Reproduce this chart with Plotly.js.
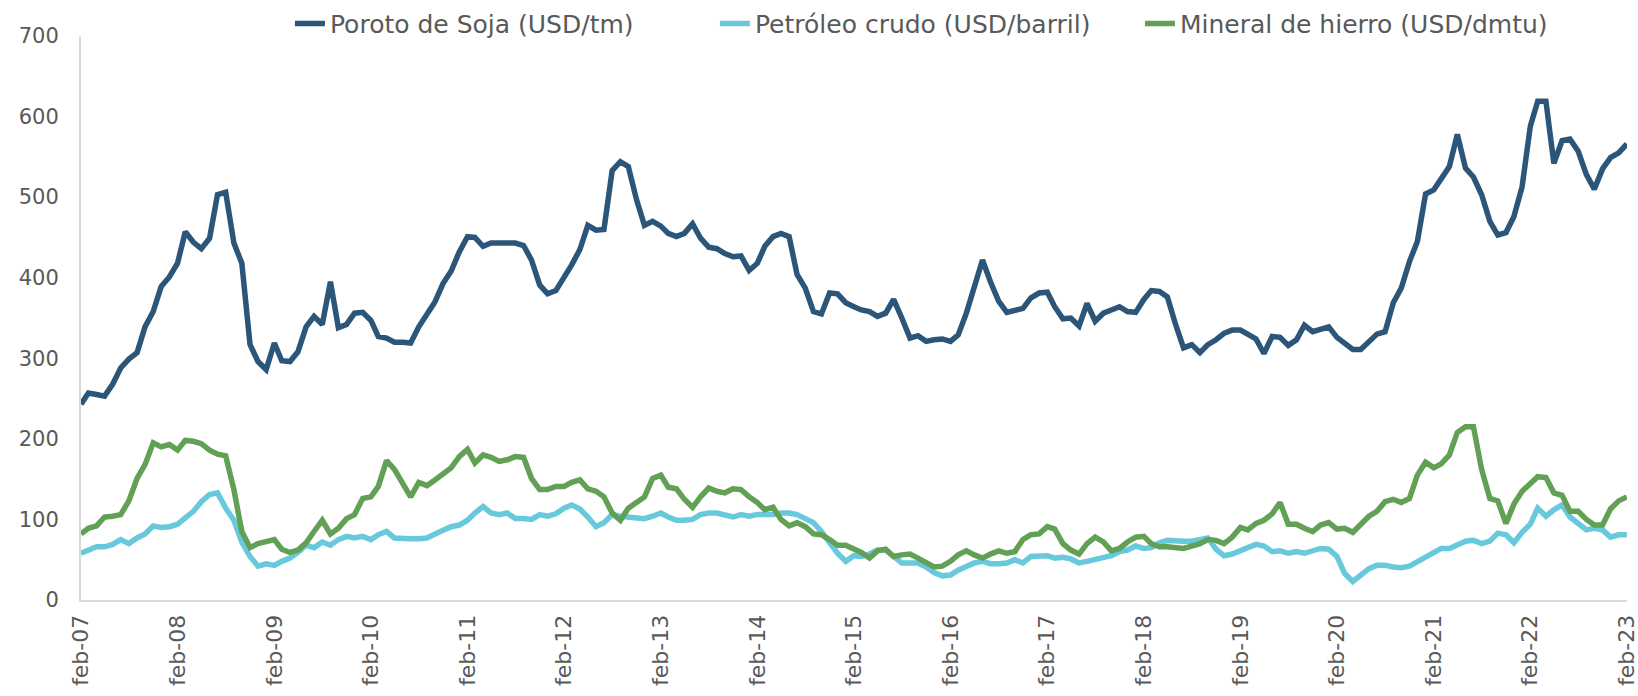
<!DOCTYPE html>
<html>
<head>
<meta charset="utf-8">
<script src="https://cdn.plot.ly/plotly-3.0.1.min.js"></script>
<style>
  html, body { margin: 0; padding: 0; background: #fff; }
  #chart { width: 1638px; height: 696px; }
</style>
</head>
<body>
<div id="chart"></div>
<script>
// monthly series, feb-07 .. feb-23 (one row = feb..jan)
const soja = [
  243, 257, 255, 253, 268, 288, 299, 307, 339, 358, 389, 401,
  418, 457, 444, 436, 449, 503, 506, 443, 418, 317, 296, 286,
  319, 297, 296, 308, 339, 352, 342, 395, 338, 342, 356, 357,
  347, 327, 325, 320, 320, 319, 339, 356, 370, 393, 408, 432,
  451, 450, 439, 443, 443, 442, 443, 440, 422, 391, 380, 384,
  400, 416, 435, 465, 459, 460, 533, 544, 538, 497, 465, 470,
  464, 455, 451, 455, 467, 449, 438, 436, 430, 426, 427, 409,
  418, 439, 451, 455, 451, 404, 387, 358, 355, 381, 380, 369,
  364, 360, 358, 352, 356, 373, 350, 325, 328, 321, 323, 324,
  321, 329, 356, 391, 422, 395, 371, 357, 359, 362, 375, 381,
  382, 364, 349, 350, 340, 368, 346, 356, 360, 364, 358, 357,
  373, 384, 383, 376, 342, 313, 317, 307, 317, 323, 331, 335,
  335, 329, 324, 306, 327, 326, 316, 323, 341, 333, 336, 339,
  326, 319, 311, 311, 321, 330, 333, 369, 387, 420, 445, 504,
  509, 522, 538, 578, 536, 525, 503, 470, 453, 456, 476, 513,
  588, 619, 619, 542, 570, 572, 557, 528, 510, 535, 549, 555,
  566
];

const petroleo = [
  58, 62, 66, 66, 69, 75, 70, 77, 82, 92, 90, 91,
  94, 102, 110, 122, 131, 133, 114, 99, 72, 54, 42, 45,
  43, 48, 52, 59, 68, 65, 72, 68, 75, 79, 77, 79,
  75, 81, 85, 77, 76, 76, 76, 77, 82, 86, 91, 93,
  99, 108, 116, 108, 106, 108, 101, 101, 100, 106, 104, 107,
  114, 118, 113, 103, 91, 96, 106, 104, 103, 101, 101, 104,
  108, 103, 99, 99, 100, 106, 108, 108, 106, 103, 106, 104,
  106, 106, 106, 108, 108, 106, 101, 96, 85, 72, 58, 48,
  55, 54, 57, 62, 62, 54, 46, 46, 46, 41, 34, 30,
  31, 37, 41, 46, 48, 45, 45, 46, 50, 46, 54, 55,
  55, 52, 53, 51, 46, 48, 50, 53, 55, 60, 62, 67,
  64, 65, 71, 74, 73, 73, 73, 75, 77, 63, 55, 57,
  62, 65, 69, 67, 60, 61, 58, 60, 58, 61, 64, 63,
  54, 33, 23, 31, 39, 43, 43, 41, 40, 42, 48, 54,
  59, 64, 64, 68, 73, 74, 70, 73, 83, 81, 71, 84,
  94, 114, 104, 112, 118, 103, 95, 87, 89, 87, 78, 81,
  81
];

const hierro = [
  82, 89, 92, 103, 104, 106, 123, 151, 168, 195, 190, 193,
  186, 198, 197, 194, 186, 181, 179, 137, 85, 65, 70, 72,
  75, 63, 59, 62, 71, 85, 99, 82, 89, 101, 106, 126,
  128, 141, 173, 162, 145, 128, 146, 142, 149, 156, 164, 178,
  187, 170, 180, 177, 172, 174, 178, 177, 151, 137, 137, 141,
  141, 146, 149, 138, 135, 128, 108, 99, 114, 121, 128, 151,
  155, 140, 138, 125, 115, 128, 139, 135, 133, 138, 137, 128,
  121, 112, 115, 100, 92, 96, 91, 82, 81, 75, 68, 68,
  63, 59, 52, 61, 63, 54, 56, 57, 52, 46, 41, 42,
  48, 56, 61, 56, 52, 57, 61, 58, 60, 75, 81, 82,
  91, 88, 70, 62, 57, 70, 78, 72, 61, 64, 72, 78,
  79, 70, 66, 66, 65, 64, 67, 70, 75, 74, 70, 78,
  90, 87, 95, 99, 107, 121, 94, 94, 89, 85, 93, 96,
  88, 89, 84, 93, 104, 110, 122, 125, 121, 126, 155, 171,
  164, 169, 180, 208, 215, 215, 162, 126, 123, 95, 119, 135,
  144, 153, 152, 133, 130, 110, 110, 100, 93, 93, 113, 123,
  128
];

const names = ['Poroto de Soja (USD/tm)', 'Petróleo crudo (USD/barril)', 'Mineral de hierro (USD/dmtu)'];
const colors = ['#2c5679', '#68c9dc', '#61a055'];

// month axis
const pad = n => (n < 10 ? '0' : '') + n;
const fechas = soja.map((_, i) => {
  const m = 1 + i;                 // 0-based month, starting at february
  const y = 2007 + Math.floor(m / 12);
  return y + '-' + pad(m % 12 + 1) + '-01';
});
const tickvals = [], ticktext = [];
for (let y = 2007; y <= 2023; y++) {
  tickvals.push(y + '-02-01');
  ticktext.push('feb-' + pad(y % 100));
}

const traces = [soja, petroleo, hierro].map((ys, k) => ({
  x: fechas, y: ys, name: names[k], type: 'scatter', mode: 'lines',
  line: {color: colors[k], width: 5.5}
}));

const font = {family: 'DejaVu Sans, Verdana, sans-serif', color: '#595959'};

Plotly.newPlot('chart', traces, {
  width: 1638, height: 696,
  margin: {l: 81, r: 11, t: 36, b: 96, autoexpand: false},
  paper_bgcolor: '#fff', plot_bgcolor: '#fff',
  font: font,
  showlegend: true,
  legend: {
    orientation: 'h', xref: 'container', yref: 'container',
    x: 0.177, xanchor: 'left', y: 0.966, yanchor: 'middle',
    font: {...font, size: 25}, entrywidth: 380, entrywidthmode: 'pixels'
  },
  xaxis: {
    type: 'date', range: ['2007-02-01', '2023-02-01 12:00'],
    tickmode: 'array', tickvals: tickvals, ticktext: ticktext, tickangle: -90,
    ticklabeloverflow: 'allow',
    tickfont: {...font, size: 22}, ticks: '', ticklabelstandoff: 4,
    showgrid: false, zeroline: false, showline: true, linecolor: '#d9d9d9', linewidth: 2
  },
  yaxis: {
    range: [0, 700], dtick: 100, tickfont: {...font, size: 21}, ticks: '', ticklabelstandoff: 16,
    showgrid: false, zeroline: false, showline: true, linecolor: '#d9d9d9', linewidth: 2
  }
}, {displayModeBar: false, staticPlot: true});
</script>
</body>
</html>
